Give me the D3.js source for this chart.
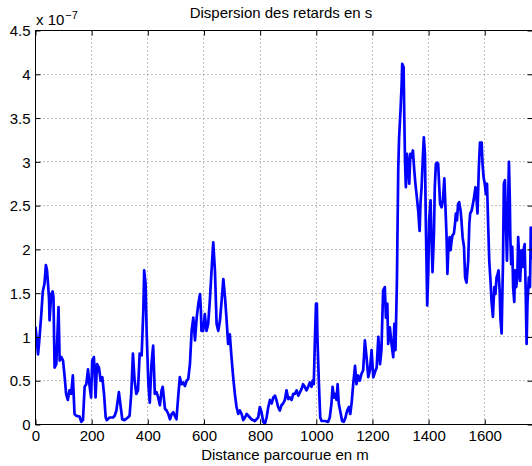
<!DOCTYPE html>
<html><head><meta charset="utf-8">
<script src="https://cdn.jsdelivr.net/npm/d3@7"></script>
<style>
body{margin:0;background:#fff;}
svg{display:block;}
text{font-family:"Liberation Sans",Arial,Helvetica,sans-serif;fill:#000;}
</style>
</head><body>
<svg id="chart" width="532" height="466"></svg>
<script>
// ---- data (distance in m, dispersion in units of 1e-7 s) ----
const distance = [
0,5,9,12,20,26,32,37,41,44,48,50,56,61,64,68,74,82,86,92,
98,104,109,115,121,127,133,139,145,157,163,169,175,181,187,193,198,202,208,214,
219,226,232,238,244,250,254,264,276,282,288,297,302,309,317,329,335,341,347,353,
359,365,371,378,384,387,392,396,402,407,413,419,425,431,437,443,449,453,457,461,
467,473,479,485,491,496,502,508,514,520,526,532,538,544,550,556,562,568,574,580,
586,589,591,597,603,609,615,621,627,633,639,645,651,657,663,669,675,680,686,692,
698,704,710,716,722,728,734,740,746,752,758,769,781,793,799,805,811,817,823,829,
835,841,847,853,858,864,870,876,882,888,894,900,906,912,918,924,930,936,942,948,
953,959,965,971,977,983,987,991,995,999,1002,1004,1009,1014,1019,1031,1042,1048,1054,1058,
1063,1066,1072,1076,1080,1086,1092,1098,1104,1110,1116,1121,1126,1132,1138,1143,1149,1155,1161,1167,
1173,1179,1185,1191,1197,1203,1209,1215,1221,1227,1232,1238,1244,1248,1253,1256,1262,1268,1274,1278,
1282,1287,1292,1295,1300,1304,1306,1311,1313,1316,1319,1323,1327,1331,1335,1339,1344,1349,1353,1358,
1363,1368,1371,1375,1380,1383,1387,1390,1393,1395,1399,1402,1407,1410,1414,1419,1422,1426,1431,1434,
1438,1441,1446,1451,1456,1460,1464,1467,1471,1475,1478,1482,1485,1490,1494,1497,1501,1505,1509,1514,
1517,1521,1526,1530,1535,1541,1545,1548,1553,1558,1562,1567,1572,1574,1579,1583,1589,1592,1596,1600,
1604,1608,1612,1616,1621,1624,1629,1634,1638,1642,1646,1649,1653,1656,1660,1665,1668,1672,1675,1679,
1682,1686,1689,1691,1694,1698,1701,1705,1708,1712,1716,1719,1723,1726,1731,1735,1738,1742,1745,1749,
1752,1757,1761,1764,1768
];
const dispersion = [
1.11,0.95,0.80,0.90,1.23,1.52,1.61,1.82,1.76,1.63,1.45,1.19,1.49,1.52,1.45,0.65,0.69,1.34,0.73,0.77,
0.73,0.54,0.35,0.28,0.39,0.35,0.56,0.12,0.10,0.09,0.03,0.05,0.43,0.46,0.63,0.43,0.31,0.73,0.77,0.31,
0.69,0.65,0.50,0.54,0.35,0.08,0.05,0.08,0.08,0.10,0.16,0.37,0.24,0.06,0.05,0.08,0.10,0.35,0.81,0.50,
0.35,0.39,0.81,0.79,1.30,1.76,1.61,1.04,0.46,0.25,0.69,0.90,0.35,0.37,0.31,0.22,0.39,0.43,0.31,0.18,
0.16,0.12,0.06,0.12,0.14,0.10,0.06,0.31,0.54,0.46,0.48,0.44,0.50,0.52,0.69,1.07,1.22,0.96,1.22,1.38,
1.49,1.30,1.07,1.07,1.26,1.07,1.15,1.42,1.76,2.08,1.76,1.15,1.07,1.19,1.42,1.66,1.45,1.22,0.92,1.03,
0.77,0.54,0.35,0.20,0.12,0.16,0.12,0.05,0.08,0.12,0.10,0.06,0.04,0.08,0.20,0.14,0.03,0.01,0.08,0.20,
0.28,0.24,0.31,0.33,0.28,0.20,0.16,0.22,0.24,0.28,0.39,0.29,0.31,0.28,0.35,0.35,0.39,0.33,0.37,0.41,
0.46,0.43,0.39,0.43,0.48,0.43,0.50,0.46,0.96,1.38,1.38,1.00,0.50,0.08,0.04,0.04,0.03,0.08,0.24,0.43,
0.31,0.35,0.28,0.46,0.24,0.14,0.04,0.03,0.08,0.16,0.20,0.12,0.25,0.48,0.67,0.46,0.56,0.50,0.58,0.62,
0.96,0.77,0.54,0.62,0.85,0.54,0.60,0.65,1.00,0.69,0.85,1.53,1.57,1.22,1.38,0.92,1.11,0.92,0.77,1.15,
0.85,1.61,2.94,3.28,3.59,3.89,4.12,4.08,3.60,3.00,2.71,3.09,2.98,2.75,3.09,3.05,3.13,2.90,2.75,2.60,
2.44,2.21,2.52,2.71,3.09,3.28,3.09,2.33,1.76,1.36,1.76,2.33,2.56,2.14,1.74,2.18,2.71,2.98,2.99,2.98,
2.71,2.52,2.48,2.56,2.81,2.48,2.14,1.72,2.06,2.14,1.99,2.10,2.16,2.18,2.29,2.41,2.33,2.52,2.54,2.44,
2.33,2.14,2.03,1.68,1.62,1.87,2.29,2.41,2.44,2.52,2.60,2.71,2.52,2.41,2.94,3.22,3.22,2.98,2.82,2.75,
2.63,2.75,2.29,1.87,1.61,1.41,1.23,1.57,1.49,1.68,1.72,1.76,1.53,1.20,1.04,1.87,2.75,2.79,2.33,1.87,
2.30,3.00,2.60,2.14,1.83,2.03,1.57,1.40,1.76,1.57,1.68,2.14,1.87,1.64,1.99,1.80,1.99,2.06,1.64,0.92,
1.38,1.68,1.57,2.25,1.90
];
const xTicks = [0,200,400,600,800,1000,1200,1400,1600];
const yTicks = [0,0.5,1,1.5,2,2.5,3,3.5,4,4.5];
const yTickLabels = ["0","0.5","1","1.5","2","2.5","3","3.5","4","4.5"];
const xDomain = [0,1770];
const yDomain = [0,4.5];
const titleText = "Dispersion des retards en s";
const xLabelText = "Distance parcourue en m";
const exponentBase = "x 10";
const exponentPower = "\u22127";

// ---- layout ----
const L = 35.5, R = 532.5, T = 30.5, B = 424.5;
const svg = d3.select("#chart");
const x = d3.scaleLinear().domain(xDomain).range([L, R]);
const y = d3.scaleLinear().domain(yDomain).range([B, T]);
const snap = v => Math.round(v - 0.5) + 0.5;

// grid
const grid = svg.append("g").attr("class","grid");
grid.selectAll("line.vg").data(xTicks.filter(d => d > 0)).enter().append("line")
  .attr("x1", d => snap(x(d))).attr("x2", d => snap(x(d)))
  .attr("y1", T).attr("y2", B)
  .attr("stroke", "#808080").attr("stroke-width", 1).attr("stroke-dasharray", "1,3");
grid.selectAll("line.hg").data(yTicks.filter(d => d > 0 && d < 4.5)).enter().append("line")
  .attr("y1", d => snap(y(d))).attr("y2", d => snap(y(d)))
  .attr("x1", L).attr("x2", R)
  .attr("stroke", "#808080").attr("stroke-width", 1).attr("stroke-dasharray", "1,3");

// data line
svg.append("clipPath").attr("id","clip").append("rect")
  .attr("x", L).attr("y", T).attr("width", R - L).attr("height", B - T);
const pts = distance.map((d,i) => [d, dispersion[i]]);
svg.append("path").datum(pts)
  .attr("clip-path","url(#clip)")
  .attr("fill","none").attr("stroke","#0000ff").attr("stroke-width",2.7)
  .attr("stroke-linejoin","round").attr("stroke-linecap","round")
  .attr("d", d3.line().x(d => x(d[0])).y(d => y(d[1])));

// axes
const fs = "15px";
const xb = svg.append("g").attr("transform", `translate(0,${B})`)
  .call(d3.axisBottom(x).tickValues(xTicks).tickSizeInner(-5).tickSizeOuter(0).tickPadding(6).tickFormat(d3.format("d")));
const xt = svg.append("g").attr("transform", `translate(0,${T})`)
  .call(d3.axisTop(x).tickValues(xTicks).tickSizeInner(-5).tickSizeOuter(0).tickFormat(""));
const yl = svg.append("g").attr("transform", `translate(${L},0)`)
  .call(d3.axisLeft(y).tickValues(yTicks).tickSizeInner(-5).tickSizeOuter(0).tickPadding(5)
    .tickFormat((d,i) => yTickLabels[i]));
const yr = svg.append("g").attr("transform", `translate(${R},0)`)
  .call(d3.axisRight(y).tickValues(yTicks).tickSizeInner(-5).tickSizeOuter(0).tickFormat(""));
[xb,xt,yl,yr].forEach(g => {
  g.select(".domain").remove();
  g.selectAll(".tick line").attr("stroke","#000");
  g.selectAll("text").attr("font-family",null).style("font-size",fs).attr("fill","#000");
});
yl.selectAll("text").attr("dy","0.35em");

// box
svg.append("rect").attr("x", L).attr("y", T).attr("width", R - L).attr("height", B - T)
  .attr("fill","none").attr("stroke","#000").attr("stroke-width",1);

// texts
svg.append("text").attr("x", 281).attr("y", 18).attr("text-anchor","middle")
  .style("font-size","15px").text(titleText);
svg.append("text").attr("x", 285).attr("y", 460).attr("text-anchor","middle")
  .style("font-size","15px").text(xLabelText);
const ex = svg.append("text").attr("x", 36).attr("y", 25).style("font-size","15px");
ex.append("tspan").text(exponentBase);
ex.append("tspan").attr("dx", 1).attr("dy", -6).style("font-size","11px").text(exponentPower);
</script>
</body></html>
